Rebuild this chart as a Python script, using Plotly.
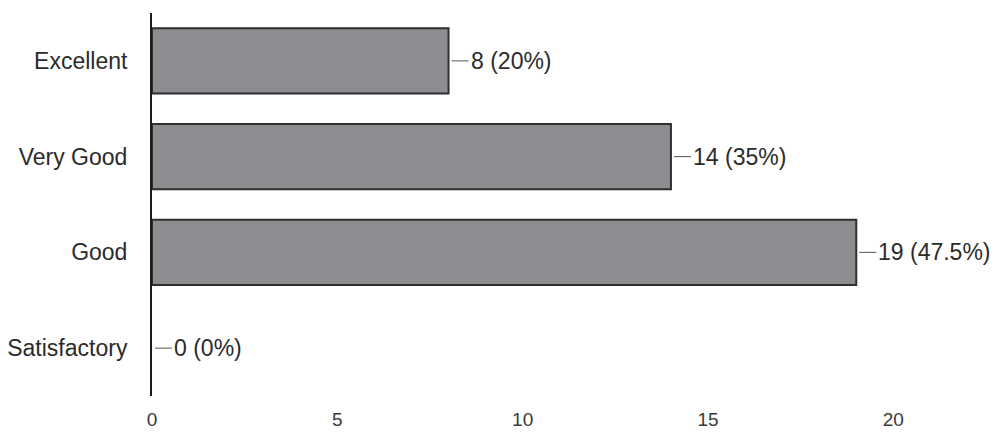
import plotly.graph_objects as go

categories = ["Excellent", "Very Good", "Good", "Satisfactory"]
counts = [8, 14, 19, 0]
percent_labels = ["20%", "35%", "47.5%", "0%"]
x_ticks = [0, 5, 10, 15, 20]

fig = go.Figure()
fig.add_trace(go.Bar(
    y=categories,
    x=counts,
    orientation="h",
    marker=dict(color="#8d8c91",
                line=dict(color="#2e2e2e", width=[2 if v > 0 else 0 for v in counts])),
    hoverinfo="skip",
))

for cat, val, pct in zip(categories, counts, percent_labels):
    fig.add_annotation(
        x=val, y=cat, xref="x", yref="y",
        text=f"{val} ({pct})",
        showarrow=True, arrowhead=0, arrowwidth=1, arrowcolor="#555555",
        ax=20, ay=0, xanchor="left", standoff=3,
        font=dict(family="Liberation Sans, Arial, sans-serif", size=23, color="#2b2b2b"),
    )

# page body has an 8px default margin, so the figure is sized/offset to compensate
fig.update_layout(
    width=983, height=429,
    margin=dict(l=144, r=5, t=5, b=41),
    plot_bgcolor="white", paper_bgcolor="white",
    bargap=0.32,
    showlegend=False,
    font=dict(family="Liberation Sans, Arial, sans-serif", color="#2b2b2b"),
)
fig.update_xaxes(
    range=[0, 22.5], tickvals=x_ticks, showgrid=False, zeroline=False,
    showline=False, ticks="", ticklabelstandoff=10, automargin=False,
    tickfont=dict(size=19, color="#3a3a3a"),
)
fig.update_yaxes(
    categoryorder="array", categoryarray=categories[::-1],
    showgrid=False, zeroline=False, showline=True, linecolor="#1a1a1a", linewidth=2,
    ticks="", ticklabelstandoff=18, automargin=False,
    tickfont=dict(size=23, color="#2b2b2b"),
)

fig.write_html("out.html")
